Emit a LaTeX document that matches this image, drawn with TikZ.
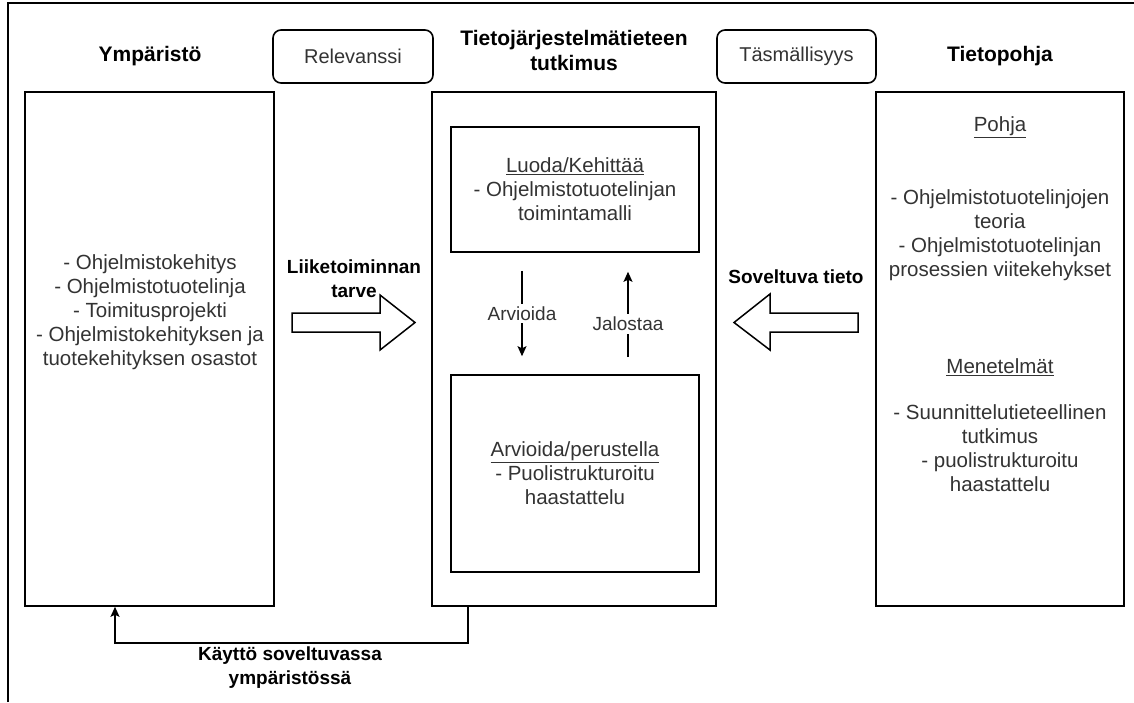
\documentclass[tikz,border=0pt]{standalone}
\usepackage{fontspec}
\setmainfont{Liberation Sans}
\usetikzlibrary{arrows.meta,calc}
\definecolor{txt}{HTML}{333333}
\begin{document}
\begin{tikzpicture}[x=1pt,y=-1pt,
  frame/.style={draw=black, line width=1.6pt, fill=white, inner sep=0pt},
  tagbox/.style={frame, rounded corners=8pt, text=txt, font=\fontsize{20}{23}\selectfont},
  body/.style={text=txt, font=\fontsize{20.5}{24}\selectfont, align=center, inner sep=1pt},
  title/.style={font=\fontsize{21}{25}\selectfont\bfseries, align=center},
  lab/.style={font=\fontsize{19}{24}\selectfont\bfseries, align=center},
  small/.style={text=txt, font=\fontsize{19}{22}\selectfont, fill=white, inner sep=3pt},
  flow/.style={line width=1.6pt, -{Stealth[length=10pt,width=9pt,inset=2pt]}},
  thinflow/.style={line width=1.2pt, -{Stealth[length=10pt,width=9pt,inset=2pt]}},
  block/.style={draw, line width=1.5pt, fill=white, line join=miter}]
\useasboundingbox (0,0) rectangle (1134,702);

% outer frame (top and left edges)
\draw[line width=1.6pt] (8,702) -- (8,3) -- (1134,3);

% column titles
\node[title] (tenv) at (150,56) {Ympäristö};
\node[title] (tres) at (574,50) {Tietojärjestelmätieteen\\tutkimus};
\node[title] (tkb)  at (1000,56) {Tietopohja};

% cycle tags
\node[tagbox, minimum width=160pt, minimum height=53pt] (rel) at (353,56.5) {Relevanssi};
\node[tagbox, minimum width=159pt, minimum height=53pt] (tas) at (796.5,56.5) {Täsmällisyys};

% main columns
\node[frame, minimum width=249pt, minimum height=514pt] (env) at (149.5,349) {};
\node[frame, minimum width=284pt, minimum height=514pt] (res) at (574,349) {};
\node[frame, minimum width=248pt, minimum height=514pt] (kb)  at (1000,349) {};

% environment contents
\node[body] (envtxt) at (150,312) {- Ohjelmistokehitys\\- Ohjelmistotuotelinja\\- Toimitusprojekti\\- Ohjelmistokehityksen ja\\tuotekehityksen osastot};

% research contents
\node[frame, minimum width=248pt, minimum height=125pt] (build) at (575,189.5) {};
\node[body] (buildtxt) at (build.center) {\underline{Luoda/Kehittää}\\- Ohjelmistotuotelinjan\\toimintamalli};
\node[frame, minimum width=248pt, minimum height=197pt] (eval) at (575,473.5) {};
\node[body] (evaltxt) at (eval.center) {\underline{Arvioida/perustella}\\- Puolistrukturoitu\\haastattelu};

\coordinate (d1) at ($(build.south)+(-53,18)$);
\coordinate (d2) at ($(eval.north)+(-53,-18)$);
\coordinate (u1) at ($(eval.north)+(53,-17)$);
\coordinate (u2) at ($(build.south)+(53,19)$);
\draw[thinflow] (d1) -- (d2) node[small, pos=0.5] {Arvioida};
\draw[thinflow] (u1) -- (u2) node[small, pos=0.39] {Jalostaa};

% knowledge base contents
\node[body] (pohja) at (1000,127) {\underline{Pohja}};
\node[body] (pohjatxt) at (1000,235) {- Ohjelmistotuotelinjojen\\teoria\\- Ohjelmistotuotelinjan\\prosessien viitekehykset};
\node[body] (men) at (1000,367) {\underline{Menetelmät}};
\node[body] (mentxt) at (1000,448) {- Suunnittelutieteellinen\\tutkimus\\- puolistrukturoitu\\haastattelu};

% block arrows between the columns
\draw[block] (292,313) -- (380,313) -- (380,295) -- (415,322.5) -- (380,350) -- (380,332) -- (292,332) -- cycle;
\node[lab] (need) at (354,279) {Liiketoiminnan\\tarve};
\draw[block] (858,313) -- (770,313) -- (770,294) -- (734,322.5) -- (770,350) -- (770,332) -- (858,332) -- cycle;
\node[lab] (know) at (796,277) {Soveltuva tieto};

% application back into the environment
\draw[flow] ([xshift=-106pt]res.south) -- ++(0,36) -| ([xshift=-34.5pt]env.south);
\node[lab] (use) at (290,668) {Käyttö soveltuvassa\\ympäristössä};
\end{tikzpicture}
\end{document}
